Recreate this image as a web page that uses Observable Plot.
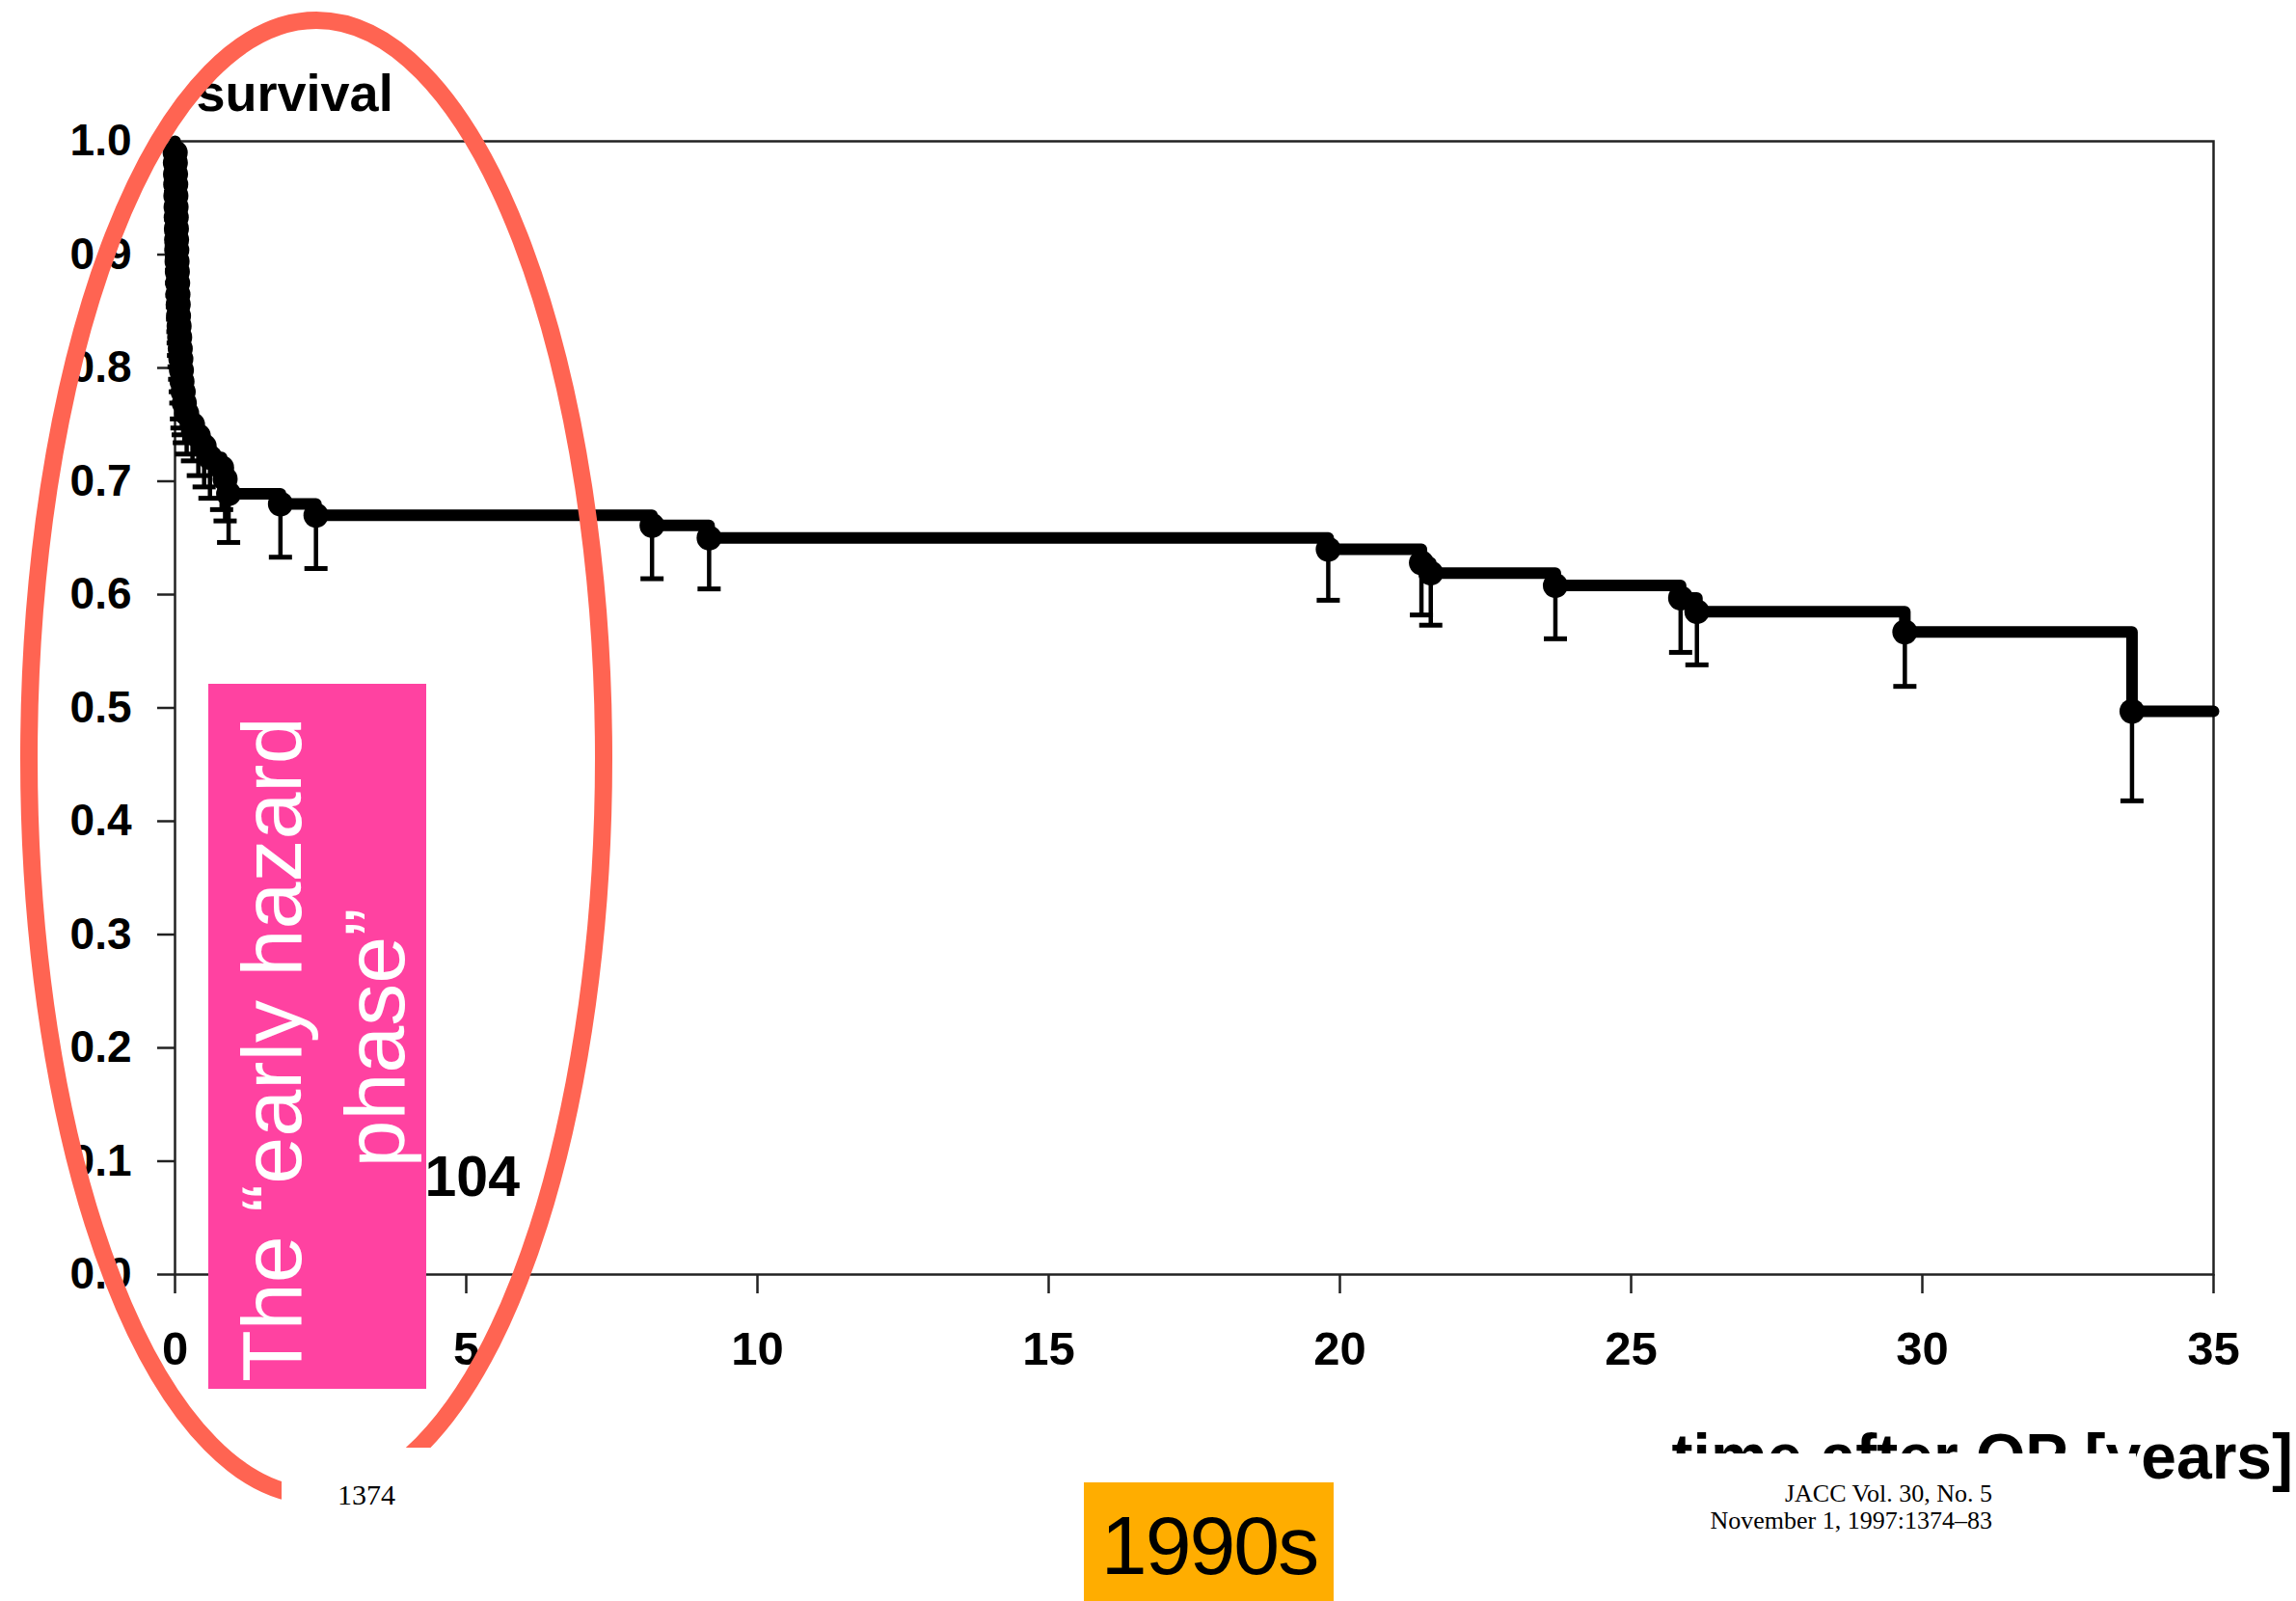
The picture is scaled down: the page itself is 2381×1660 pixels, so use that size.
<!DOCTYPE html>
<html>
<head>
<meta charset="utf-8">
<script src="https://cdn.jsdelivr.net/npm/d3@7"></script>
<script src="https://cdn.jsdelivr.net/npm/@observablehq/plot@0.6"></script>
<style>
  html, body { margin: 0; padding: 0; background: #fff; }
  #wrap { position: relative; width: 2381px; height: 1660px; overflow: hidden; background: #fff; }
  #chart { position: absolute; left: 0; top: 0; }
  #chart svg text { font-weight: bold; }
  #overlay { position: absolute; left: 0; top: 0; pointer-events: none; }
</style>
</head>
<body>
<div id="wrap">
  <div id="chart"></div>
  <svg id="overlay" width="2381" height="1660" xmlns="http://www.w3.org/2000/svg">
    <text x="2378" y="1533" text-anchor="end" font-family="Liberation Sans, Arial, sans-serif" font-weight="bold" font-size="66" fill="#000">time after OP [years]</text>
    <rect x="1690" y="1507" width="525" height="110" fill="#fff"/>
    <ellipse cx="328" cy="786" rx="298" ry="765" fill="none" stroke="#FF6452" stroke-width="18"/>
    <rect x="292" y="1501" width="320" height="160" fill="#fff"/>
    <text x="350" y="1560" font-family="Liberation Serif, Times New Roman, serif" font-size="30" fill="#000">1374</text>
    <rect x="216" y="709" width="226" height="731" fill="#FF42A1"/>
    <text transform="translate(0,1076) rotate(-90)" text-anchor="middle" font-family="Liberation Sans, Arial, sans-serif" font-size="88" fill="#fff">
      <tspan x="0" y="312">The “early hazard</tspan>
      <tspan x="0" y="419">phase”</tspan>
    </text>
    <rect x="1124" y="1537" width="259" height="123" fill="#FFAD00"/>
    <text x="1254" y="1632" text-anchor="middle" font-family="Liberation Sans, Arial, sans-serif" font-size="86" letter-spacing="-2" fill="#000">1990s</text>
    <text x="2066" y="1557" text-anchor="end" font-family="Liberation Serif, Times New Roman, serif" font-size="26" fill="#000">JACC Vol. 30, No. 5</text>
    <text x="2066" y="1585" text-anchor="end" font-family="Liberation Serif, Times New Roman, serif" font-size="26" fill="#000">November 1, 1997:1374–83</text>
  </svg>
</div>
<script>
// ---- Data read from the Kaplan–Meier curve ----
const eventTimes = [
  0.003, 0.006, 0.009, 0.012, 0.015, 0.018, 0.021, 0.024, 0.027, 0.030,
  0.035, 0.040, 0.045, 0.050, 0.055, 0.060, 0.070, 0.080, 0.090, 0.100,
  0.110, 0.120, 0.140, 0.160, 0.200, 0.300, 0.400, 0.500, 0.600, 0.800,
  0.860, 0.920, 1.81, 2.42, 8.19, 9.17, 19.8, 21.4, 21.56, 23.7,
  25.85, 26.13, 29.7, 33.6
];
const survival = [
  0.990, 0.981, 0.971, 0.962, 0.952, 0.942, 0.933, 0.923, 0.913, 0.904,
  0.894, 0.885, 0.875, 0.865, 0.856, 0.846, 0.837, 0.827, 0.817, 0.808,
  0.798, 0.788, 0.779, 0.769, 0.760, 0.750, 0.740, 0.731, 0.721, 0.712,
  0.702, 0.689, 0.680, 0.670, 0.661, 0.650, 0.640, 0.628, 0.619, 0.608,
  0.597, 0.585, 0.567, 0.497
];
const lowerCI = [
  0.981, 0.968, 0.955, 0.943, 0.931, 0.920, 0.909, 0.897, 0.886, 0.875,
  0.864, 0.854, 0.843, 0.832, 0.822, 0.811, 0.801, 0.790, 0.779, 0.769,
  0.755, 0.747, 0.741, 0.734, 0.724, 0.718, 0.705, 0.695, 0.685, 0.675,
  0.665, 0.646, 0.633, 0.623, 0.614, 0.605, 0.595, 0.582, 0.573, 0.561,
  0.549, 0.538, 0.519, 0.418
];
const startTime = 0, startSurvival = 1.0, endTime = 35;
const xTicks = [0, 5, 10, 15, 20, 25, 30, 35];
const yTicks = [0, 0.1, 0.2, 0.3, 0.4, 0.5, 0.6, 0.7, 0.8, 0.9, 1.0];
const yLabel = "survival";
const nLabel = "104";

// ---- Build tables ----
const events = eventTimes.map((t, i) => ({t, s: survival[i], lo: lowerCI[i]}));
const curve = [{t: startTime, s: startSurvival}, ...events, {t: endTime, s: survival[survival.length - 1]}];

const capSymbol = {draw(ctx) { ctx.rect(-12, -2.5, 24, 5); }};

const chart = Plot.plot({
  width: 2381,
  height: 1660,
  marginLeft: 181,
  marginRight: 86,
  marginTop: 146,
  marginBottom: 339,
  style: {fontFamily: "Liberation Sans, Arial, sans-serif", background: "white", color: "black"},
  x: {domain: [0, 35]},
  y: {domain: [0, 1]},
  marks: [
    Plot.frame({stroke: "#222", strokeWidth: 2.5}),
    Plot.axisX({ticks: xTicks, tickSize: 20, tickPadding: 39, fontSize: 49, label: null, stroke: "#222", strokeWidth: 2.5}),
    Plot.axisY({ticks: yTicks, tickFormat: d3.format(".1f"), tickSize: 18, tickPadding: 27, fontSize: 46, label: null, stroke: "#222", strokeWidth: 2.5}),
    Plot.ruleX(events, {x: "t", y1: "s", y2: "lo", stroke: "black", strokeWidth: 4.5}),
    Plot.dot(events, {x: "t", y: "lo", symbol: capSymbol, fill: "black", stroke: null, r: 5}),
    Plot.line(curve, {x: "t", y: "s", curve: "step-after", stroke: "black", strokeWidth: 12}),
    Plot.dot(events, {x: "t", y: "s", r: 13, fill: "black", stroke: null}),
    Plot.text([yLabel], {text: d => d, frameAnchor: "top-left", textAnchor: "start", lineAnchor: "bottom", dx: 22, dy: -32, fontSize: 54}),
    Plot.text([nLabel], {text: d => d, frameAnchor: "bottom-left", textAnchor: "start", lineAnchor: "bottom", dx: 259, dy: -82, fontSize: 59})
  ]
});
document.getElementById("chart").appendChild(chart);
</script>
</body>
</html>
